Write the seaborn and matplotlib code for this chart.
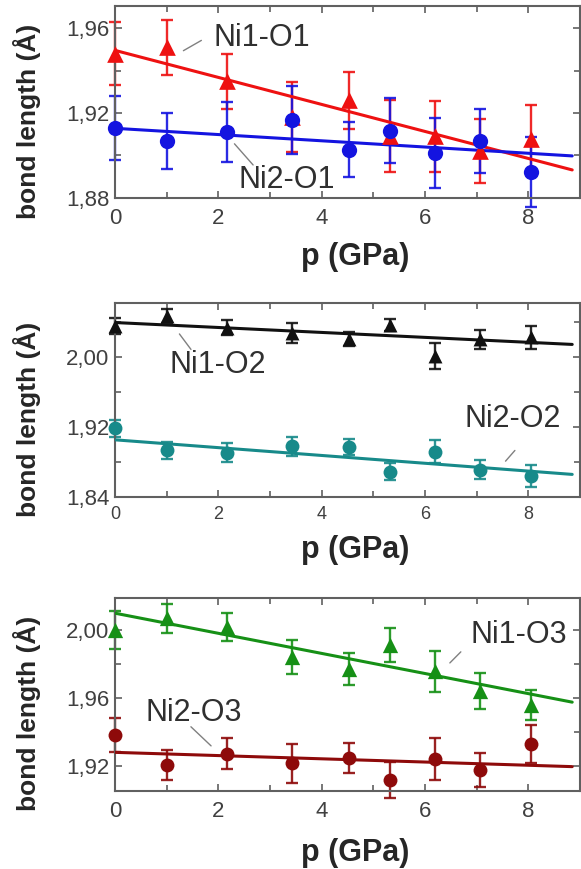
import numpy as np
import pandas as pd
import seaborn as sns
import matplotlib.pyplot as plt
from matplotlib.ticker import MultipleLocator, FuncFormatter

# pressure points (GPa)
pressure = [0.0, 1.0, 2.17, 3.43, 4.52, 5.33, 6.2, 7.06, 8.05]

# bond lengths (A) and their error bars
ni1_o1 = [1.948, 1.951, 1.935, 1.918, 1.926, 1.909, 1.909, 1.902, 1.908]
ni1_o1_err = [0.015, 0.013, 0.013, 0.0165, 0.0135, 0.017, 0.0167, 0.015, 0.016]
ni2_o1 = [1.913, 1.9067, 1.911, 1.9165, 1.9028, 1.9116, 1.901, 1.9067, 1.8924]
ni2_o1_err = [0.015, 0.0132, 0.014, 0.016, 0.013, 0.0153, 0.0165, 0.015, 0.0165]

ni1_o2 = [2.035, 2.046, 2.033, 2.027, 2.020, 2.036, 2.001, 2.020, 2.022]
ni1_o2_err = [0.009, 0.008, 0.0085, 0.011, 0.008, 0.007, 0.015, 0.011, 0.013]
ni2_o2 = [1.918, 1.893, 1.8905, 1.8975, 1.8966, 1.8686, 1.8915, 1.871, 1.8638]
ni2_o2_err = [0.010, 0.0095, 0.0105, 0.011, 0.009, 0.0095, 0.013, 0.011, 0.0124]

ni1_o3 = [2.000, 2.0068, 2.0015, 1.9843, 1.977, 1.9912, 1.9757, 1.9641, 1.9558]
ni1_o3_err = [0.011, 0.0085, 0.0083, 0.010, 0.0095, 0.0098, 0.012, 0.0108, 0.009]
ni2_o3 = [1.9382, 1.9206, 1.9272, 1.9215, 1.9246, 1.9118, 1.924, 1.9175, 1.933]
ni2_o3_err = [0.0098, 0.0088, 0.009, 0.0113, 0.0088, 0.0107, 0.0122, 0.010, 0.011]

# linear fits, value at start and end of the fit range
fit_p = [0.0, 8.85]
fit_ni1_o1 = [1.9495, 1.8932]
fit_ni2_o1 = [1.9128, 1.8998]
fit_ni1_o2 = [2.039, 2.014]
fit_ni2_o2 = [1.905, 1.8655]
fit_ni1_o3 = [2.0098, 1.9575]
fit_ni2_o3 = [1.928, 1.9196]

sns.set_theme(style='ticks')
plt.rcParams['font.family'] = ['Liberation Sans', 'DejaVu Sans']

# (label, values, errors, fit, colour, marker, text pos, connector from, connector to)
panels = [
    dict(ylim=(1.88, 1.9704), major=0.04, minor=0.02, ms=(12, 11), xtick_fs=16, xlab_y=-0.31,
         series=[
             ('Ni1-O1', ni1_o1, ni1_o1_err, fit_ni1_o1, '#ee1111', '^',
              (0.316, 0.833), (0.191, 0.828), (0.142, 0.760)),
             ('Ni2-O1', ni2_o1, ni2_o1_err, fit_ni2_o1, '#1414e0', 'o',
              (0.370, 0.094), (0.301, 0.161), (0.253, 0.293)),
         ]),
    dict(ylim=(1.84, 2.061), major=0.08, minor=0.04, ms=(10, 10), xtick_fs=13, xlab_y=-0.276,
         series=[
             ('Ni1-O2', ni1_o2, ni1_o2_err, fit_ni1_o2, '#111111', '^',
              (0.220, 0.681), (0.167, 0.750), (0.135, 0.853)),
             ('Ni2-O2', ni2_o2, ni2_o2_err, fit_ni2_o2, '#178a8a', 'o',
              (0.856, 0.404), (0.864, 0.250), (0.836, 0.173)),
         ]),
    dict(ylim=(1.9053, 2.0186), major=0.04, minor=0.02, ms=(11, 10), xtick_fs=16, xlab_y=-0.32,
         series=[
             ('Ni1-O3', ni1_o3, ni1_o3_err, fit_ni1_o3, '#169016', '^',
              (0.868, 0.810), (0.748, 0.732), (0.716, 0.654)),
             ('Ni2-O3', ni2_o3, ni2_o3_err, fit_ni2_o3, '#8e0a0a', 'o',
              (0.170, 0.407), (0.159, 0.343), (0.211, 0.224)),
         ]),
]

rects = [
    [0.1979, 0.7722, 0.8003, 0.2209],
    [0.1979, 0.4284, 0.8003, 0.2226],
    [0.1979, 0.0898, 0.8003, 0.2218],
]

fig = plt.figure(figsize=(5.81, 8.69), dpi=100)
comma = FuncFormatter(lambda v, pos: f'{v:.2f}'.replace('.', ','))

for rect, panel in zip(rects, panels):
    ax = fig.add_axes(rect)
    for k, (name, vals, errs, fit, color, marker, tpos, c0, c1) in enumerate(panel['series']):
        eb = ax.errorbar(pressure, vals, yerr=errs, fmt='none', ecolor=color, elinewidth=1.7,
                         capsize=4.5, capthick=1.7, alpha=0.9, zorder=2)
        for art in eb.lines[1] + eb.lines[2]:
            art.set_clip_on(False)
        sns.lineplot(x=fit_p, y=fit, ax=ax, color=color, linewidth=2.2, zorder=3)
        df = pd.DataFrame({'p': pressure, 'd': vals})
        sns.scatterplot(data=df, x='p', y='d', ax=ax, color=color, marker=marker,
                        s=panel['ms'][k] ** 2, edgecolor=color, linewidth=0, zorder=4,
                        clip_on=False)
        ax.text(tpos[0], tpos[1], name, transform=ax.transAxes, ha='center', va='center',
                fontsize=22, color='#303030')
        ax.annotate('', xy=c1, xytext=c0, xycoords='axes fraction', textcoords='axes fraction',
                    arrowprops=dict(arrowstyle='-', color='#808080', lw=1.0))

    ax.set_xlim(0, 9)
    ax.set_ylim(*panel['ylim'])
    ax.xaxis.set_major_locator(MultipleLocator(2))
    ax.xaxis.set_minor_locator(MultipleLocator(1))
    ax.yaxis.set_major_locator(MultipleLocator(panel['major']))
    ax.yaxis.set_minor_locator(MultipleLocator(panel['minor']))
    ax.yaxis.set_major_formatter(comma)

    ax.tick_params(which='both', direction='in', top=True, right=True, color='#606060', width=1.2)
    ax.tick_params(which='major', length=5)
    ax.tick_params(which='minor', length=4)
    ax.tick_params(axis='y', labelsize=16, labelcolor='#404040', pad=4)
    ax.tick_params(axis='x', labelsize=panel['xtick_fs'], labelcolor='#404040', pad=7)
    for sp in ax.spines.values():
        sp.set_color('#606060')
        sp.set_linewidth(1.5)

    ax.set_xlabel('p (GPa)', fontsize=22, fontweight='bold', va='center')
    ax.xaxis.set_label_coords(0.516, panel['xlab_y'])
    ax.set_ylabel('bond length (Å)', fontsize=19, fontweight='bold', va='center')
    ax.yaxis.set_label_coords(-0.19, 0.40)

fig.savefig('out.png', dpi=100)
